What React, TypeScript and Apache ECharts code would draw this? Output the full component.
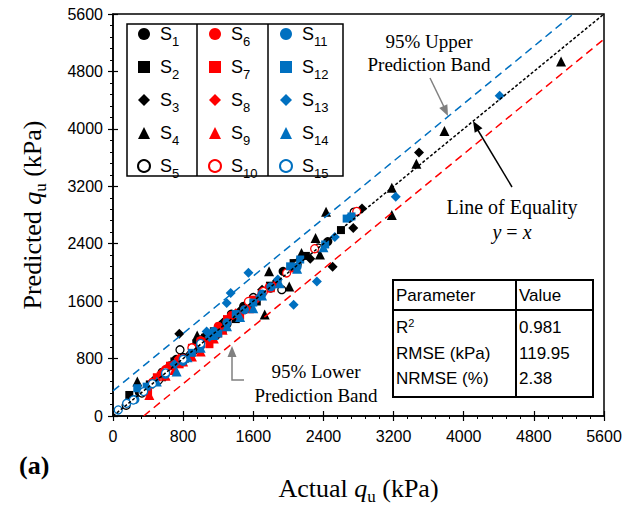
import React, { useEffect, useRef } from 'react';
import * as echarts from 'echarts';

// ---- data ----
const seriesNames = ['S1','S2','S3','S4','S5','S6','S7','S8','S9','S10','S11','S12','S13','S14','S15'];

const s1 = [[300,330],[480,500],[560,610],[650,700],[720,790],[800,820],[880,850],[1000,1020],[1050,1100],[1180,1130],[1250,1280],[1350,1420],[1490,1530],[1620,1600],[1800,1780],[1940,2015],[2070,2120],[2450,2430]];
const s2 = [[186,293],[420,440],[560,540],[700,760],[820,800],[950,1010],[1050,1090],[1150,1180],[1250,1200],[1290,1260],[1400,1350],[1640,1595],[1790,1815],[2060,2130],[2200,2230],[2600,2590]];
const s3 = [[560,600],[756,1145],[950,930],[1250,1300],[1460,1480],[1700,1760],[1870,1880],[2100,2140],[2250,2190],[2505,2080],[2740,2620],[2840,2890],[3490,3670]];
const s4 = [[277,480],[600,640],[960,1120],[1200,1240],[1560,1560],[1730,1415],[1780,2015],[2010,1805],[2150,2270],[2310,2480],[2360,2250],[2430,2845],[3180,3180],[3180,2800],[3460,3515],[3780,3970],[5110,4940]];
const s5 = [[150,150],[330,320],[520,500],[764,922],[1000,1060],[1300,1280],[1600,1650],[1925,1760],[2100,2110],[2340,2340],[2750,2840]];
const s6 = [[450,470],[600,650],[700,720],[750,780],[800,800],[900,870],[1000,1050],[1100,1060],[1150,1120],[1200,1250],[1300,1320],[1350,1400],[1500,1480],[1700,1720],[2050,2060]];
const s7 = [[400,330],[500,540],[650,700],[760,720],[900,950],[1000,1040],[1100,1000],[1200,1150],[1300,1350],[1450,1400],[1600,1620],[1800,1780]];
const s8 = [[550,600],[750,800],[1000,960],[1200,1180],[1400,1430],[1650,1640],[1870,1850]];
const s9 = [[414,293],[600,560],[700,640],[800,760],[900,830],[1000,900],[1150,1080],[1250,1200],[1550,1500],[1750,1790]];
const s10 = [[600,620],[900,950],[1150,1170],[1545,1596],[1715,1736],[1980,1993],[2300,2330],[2780,2850]];
const s11 = [[250,230],[600,580],[800,760],[1000,980],[1150,1180],[1300,1300],[1500,1480],[1700,1700],[1800,1800],[2100,2080],[2700,2760]];
const s12 = [[277,387],[384,409],[900,880],[1200,1150],[1400,1420],[1600,1580],[2020,2085],[2135,2180],[2420,2390],[2665,2750],[2720,2780]];
const s13 = [[700,720],[1068,1177],[1100,1100],[1297,1574],[1342,1713],[1545,1995],[1677,1666],[1880,1900],[2060,1550],[2325,1875],[2530,2495],[3225,3055],[4410,4460]];
const s14 = [[500,480],[726,619],[850,820],[1000,950],[1150,1130],[1300,1250],[1450,1380],[1600,1500],[1700,1680],[1900,1850],[2100,2050],[2400,2350]];
const s15 = [[60,84],[156,177],[232,223],[350,340],[450,450],[600,600],[800,790],[1000,1010]];

const equalityLine = [[0,0],[5600,5600]];
const upperBand = [[0,350],[5250,5600]];
const lowerBand = [[350,0],[5600,5250]];

const axisMin = 0;
const axisMax = 5600;
const axisStep = 800;

const tableHeader = ['Parameter', 'Value'];
const tableParams = ['{r|R}{p|2}', 'RMSE (kPa)', 'NRMSE (%)'];
const tableValues = ['0.981', '119.95', '2.38'];

const BLACK = '#000000';
const RED = '#FF0000';
const BLUE = '#0070C0';
const GRAY = '#808080';
const SANS = '"Liberation Sans", Arial, sans-serif';
const SERIF = '"Palatino Linotype", "Book Antiqua", "Liberation Serif", serif';

const allData = [s1,s2,s3,s4,s5,s6,s7,s8,s9,s10,s11,s12,s13,s14,s15];
const markerSymbols = ['circle','rect','diamond','triangle','circle'];
const markerSizes = [9,8,10,10,8];
const groupColors = [BLACK, RED, BLUE];

function arrowHead(x1: number, y1: number, x2: number, y2: number, color: string) {
  const a = Math.atan2(y2 - y1, x2 - x1);
  const L = 11, W = 4.5;
  const bx = x2 - L * Math.cos(a), by = y2 - L * Math.sin(a);
  const px = -Math.sin(a) * W, py = Math.cos(a) * W;
  return {
    type: 'polygon',
    shape: { points: [[x2, y2], [bx + px, by + py], [bx - px, by - py]] },
    style: { fill: color },
    z: 20,
  };
}

export default function App() {
  const ref = useRef<HTMLDivElement>(null);
  useEffect(() => {
    if (!ref.current) return;
    const chart = echarts.init(ref.current, undefined, { renderer: 'svg' });

    const scatterSeries = allData.map((d, i) => {
      const g = Math.floor(i / 5), k = i % 5;
      const color = groupColors[g];
      const hollow = k === 4;
      return {
        name: seriesNames[i],
        type: 'scatter',
        data: d,
        symbol: markerSymbols[k],
        symbolSize: markerSizes[k],
        itemStyle: hollow ? { color: '#ffffff', borderColor: color, borderWidth: 1.3, opacity: 1 } : { color, opacity: 1 },
        emphasis: { disabled: true },
        z: 3,
      };
    });

    const lineSeries = [
      { data: equalityLine, color: BLACK, dash: [3, 2] },
      { data: upperBand, color: BLUE, dash: [8, 5] },
      { data: lowerBand, color: RED, dash: [8, 5] },
    ].map((l) => ({
      type: 'line',
      data: l.data,
      symbol: 'none',
      silent: true,
      lineStyle: { color: l.color, width: 1.5, type: l.dash },
      z: 4,
    }));

    const legendRich = {
      s: { fontSize: 18, fontFamily: SANS, color: '#000', lineHeight: 28, verticalAlign: 'middle' },
      b: { fontSize: 13, fontFamily: SANS, color: '#000', lineHeight: 14, verticalAlign: 'bottom' },
    };
    const legends = [0, 1, 2].map((c) => ({
      data: seriesNames.slice(c * 5, c * 5 + 5),
      orient: 'vertical',
      left: [137, 208, 279][c],
      top: 25,
      padding: 0,
      itemWidth: 12,
      itemHeight: 12,
      itemGap: 10,
      selectedMode: false,
      formatter: (n: string) => `{s| S}{b|${n.slice(1)}}`,
      textStyle: { rich: legendRich },
    }));

    const titleRich = {
      n: { fontSize: 26, fontFamily: SERIF, color: '#000', lineHeight: 34, verticalAlign: 'middle' },
      q: { fontSize: 26, fontFamily: SERIF, fontStyle: 'italic', color: '#000', lineHeight: 34, verticalAlign: 'middle' },
      u: { fontSize: 17, fontFamily: SERIF, color: '#000', lineHeight: 20, verticalAlign: 'bottom' },
    };

    const tX = 393, tY = 280, tW = 200, tH = 117, colX = 516, headY = 310;
    const rowYs = [327, 353, 378];

    const graphic: any[] = [
      // legend frame
      { type: 'rect', shape: { x: 127, y: 24, width: 216, height: 152 }, style: { fill: 'none', stroke: '#000', lineWidth: 1.5 }, z: 10 },
      { type: 'line', shape: { x1: 197, y1: 24, x2: 197, y2: 176 }, style: { stroke: '#000', lineWidth: 1.5 }, z: 10 },
      { type: 'line', shape: { x1: 268, y1: 24, x2: 268, y2: 176 }, style: { stroke: '#000', lineWidth: 1.5 }, z: 10 },
      // table
      { type: 'rect', shape: { x: tX, y: tY, width: tW, height: tH }, style: { fill: '#fff', stroke: '#000', lineWidth: 2 }, z: 10 },
      { type: 'line', shape: { x1: tX, y1: headY, x2: tX + tW, y2: headY }, style: { stroke: '#000', lineWidth: 2 }, z: 11 },
      { type: 'line', shape: { x1: colX, y1: tY, x2: colX, y2: tY + tH }, style: { stroke: '#000', lineWidth: 2 }, z: 11 },
      { type: 'text', x: 396, y: 295.5, style: { text: tableHeader[0], font: `17px ${SANS}`, fill: '#000', verticalAlign: 'middle' }, z: 12 },
      { type: 'text', x: 519, y: 295.5, style: { text: tableHeader[1], font: `17px ${SANS}`, fill: '#000', verticalAlign: 'middle' }, z: 12 },
      ...tableParams.map((t, i) => ({
        type: 'text', x: 396, y: rowYs[i],
        style: {
          text: t, font: `17px ${SANS}`, fill: '#000', verticalAlign: 'middle',
          rich: {
            r: { fontSize: 17, fontFamily: SANS, lineHeight: 20, verticalAlign: 'middle' },
            p: { fontSize: 11, fontFamily: SANS, lineHeight: 14, verticalAlign: 'top' },
          },
        },
        z: 12,
      })),
      ...tableValues.map((t, i) => ({
        type: 'text', x: 519, y: rowYs[i],
        style: { text: t, font: `17px ${SANS}`, fill: '#000', verticalAlign: 'middle' }, z: 12,
      })),
      // upper band annotation
      { type: 'text', x: 429, y: 41, style: { text: '95% Upper', font: `19px ${SERIF}`, fill: '#000', align: 'center', verticalAlign: 'middle' }, z: 12 },
      { type: 'text', x: 429, y: 64, style: { text: 'Prediction Band', font: `19px ${SERIF}`, fill: '#000', align: 'center', verticalAlign: 'middle' }, z: 12 },
      { type: 'line', shape: { x1: 430, y1: 78, x2: 446, y2: 111 }, style: { stroke: GRAY, lineWidth: 1.5 }, z: 20 },
      arrowHead(430, 78, 448, 116, GRAY),
      // lower band annotation
      { type: 'text', x: 316, y: 371, style: { text: '95% Lower', font: `19px ${SERIF}`, fill: '#000', align: 'center', verticalAlign: 'middle' }, z: 12 },
      { type: 'text', x: 316, y: 395, style: { text: 'Prediction Band', font: `19px ${SERIF}`, fill: '#000', align: 'center', verticalAlign: 'middle' }, z: 12 },
      { type: 'polyline', shape: { points: [[244, 380], [232, 380], [232, 356]] }, style: { stroke: GRAY, lineWidth: 1.5, fill: 'none' }, z: 20 },
      arrowHead(232, 380, 232, 346, GRAY),
      // line of equality annotation
      { type: 'text', x: 512, y: 207, style: { text: 'Line of Equality', font: `20px ${SERIF}`, fill: '#000', align: 'center', verticalAlign: 'middle' }, z: 12 },
      { type: 'text', x: 512, y: 232, style: { text: '{i|y} = {i|x}', font: `20px ${SERIF}`, fill: '#000', align: 'center', verticalAlign: 'middle', rich: { i: { fontStyle: 'italic', fontSize: 20, fontFamily: SERIF } } }, z: 12 },
      { type: 'line', shape: { x1: 512, y1: 187, x2: 476, y2: 127 }, style: { stroke: '#000', lineWidth: 1.5 }, z: 20 },
      arrowHead(512, 187, 473, 121, '#000'),
      // panel label
      { type: 'text', x: 19, y: 465, style: { text: '(a)', font: `bold 26px ${SERIF}`, fill: '#000', verticalAlign: 'middle' }, z: 12 },
    ];

    const baseAxis = {
      type: 'value',
      min: axisMin,
      max: axisMax,
      interval: axisStep,
      splitLine: { show: false },
    };
    const plainLabel = (v: number) => String(v);

    chart.setOption({
      animation: false,
      backgroundColor: '#ffffff',
      grid: { left: 113, right: 24, top: 14, bottom: 95, show: true, borderColor: '#000', borderWidth: 1.5, backgroundColor: 'transparent' },
      legend: legends,
      xAxis: [
        {
          ...baseAxis,
          position: 'bottom',
          name: '{n|Actual }{q|q}{u|u}{n| (kPa)}',
          nameLocation: 'middle',
          nameGap: 55,
          nameTextStyle: { rich: titleRich },
          axisLine: { show: true, lineStyle: { color: '#000', width: 1.5 } },
          axisTick: { show: true, inside: false, length: 5, lineStyle: { color: '#000', width: 1.2 } },
          minorTick: { show: true, splitNumber: 5, length: 3, lineStyle: { color: '#000', width: 1 } },
          axisLabel: { color: '#000', fontSize: 16, fontFamily: SANS, margin: 12, formatter: plainLabel },
        },
        {
          ...baseAxis,
          position: 'bottom',
          offset: 0,
          axisLine: { show: false },
          axisTick: { show: true, inside: true, length: 5, lineStyle: { color: '#000', width: 1.2 } },
          axisLabel: { show: false },
        },
      ],
      yAxis: [
        {
          ...baseAxis,
          position: 'left',
          name: '{n|Predicted }{q|q}{u|u}{n| (kPa)}',
          nameLocation: 'middle',
          nameRotate: 90,
          nameGap: 64,
          nameTextStyle: { rich: titleRich },
          axisLine: { show: true, lineStyle: { color: '#000', width: 1.5 } },
          axisTick: { show: true, inside: false, length: 5, lineStyle: { color: '#000', width: 1.2 } },
          minorTick: { show: true, splitNumber: 5, length: 3, lineStyle: { color: '#000', width: 1 } },
          axisLabel: { color: '#000', fontSize: 16, fontFamily: SANS, margin: 10, formatter: plainLabel },
        },
        {
          ...baseAxis,
          position: 'left',
          offset: 0,
          axisLine: { show: false },
          axisTick: { show: true, inside: true, length: 5, lineStyle: { color: '#000', width: 1.2 } },
          axisLabel: { show: false },
        },
      ],
      series: [...scatterSeries, ...lineSeries],
      graphic,
    });

    return () => chart.dispose();
  }, []);

  return (
    <div
      ref={ref}
      style={{ position: 'fixed', left: 0, top: 0, width: 628, height: 511, background: '#fff' }}
    />
  );
}
